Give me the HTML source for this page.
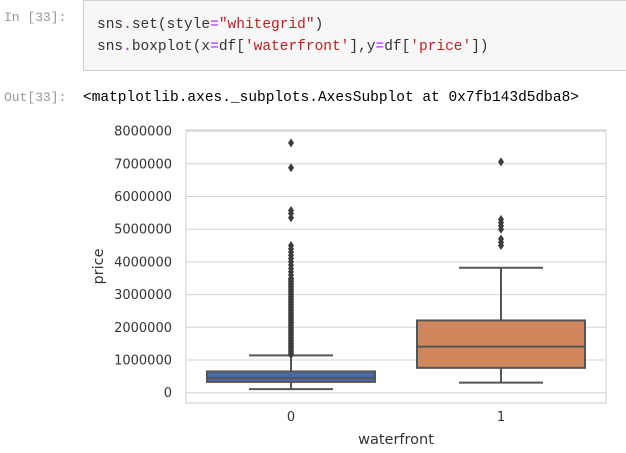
<!DOCTYPE html>
<html><head><meta charset="utf-8"><style>
body{margin:0;width:626px;height:453px;background:#fff;overflow:hidden;position:relative;font-family:"Liberation Sans",sans-serif}
.prompt{position:absolute;font-family:"Liberation Mono",monospace;font-size:13px;color:#999}
.code{position:absolute;left:83px;top:0;width:545px;height:71px;background:#f7f7f7;border:1px solid #cfcfcf;box-sizing:border-box;font-family:"Liberation Mono",monospace;font-size:14.5px;color:#333}
.code div{position:absolute;left:13px;white-space:pre}
.s{color:#ba2121}.o{color:#aa22ff}.p{color:#333}
</style></head><body>
<div class="prompt" style="left:4px;top:10px">In [33]:</div>
<div class="code">
<div style="top:16px">sns<span class="o">.</span>set(style<span class="o">=</span><span class="s">"whitegrid"</span>)</div>
<div style="top:38px">sns<span class="o">.</span>boxplot(x<span class="o">=</span>df[<span class="s">'waterfront'</span>],y<span class="o">=</span>df[<span class="s">'price'</span>])</div>
</div>
<div class="prompt" style="left:4px;top:90px">Out[33]:</div>
<div style="position:absolute;left:83px;top:90px;font-family:'Liberation Mono',monospace;font-size:14.5px;color:#000;white-space:pre">&lt;matplotlib.axes._subplots.AxesSubplot at 0x7fb143d5dba8&gt;</div>
<svg id="chart" width="626" height="453" style="position:absolute;left:0;top:0"></svg>
<script>
const categories=['0','1'];
const q1=[330000,760000];
const median=[450000,1410000];
const q3=[650000,2210000];
const whiskLow=[110000,310000];
const whiskHigh=[1140000,3820000];
const outliers0=[7640000,6880000,5570000,5480000,5350000,4500000,4400000,4300000,4200000,4100000,4000000,3900000,3800000,3700000,3600000,3500000,3450000,3400000,3350000,3300000,3250000,3200000,3150000,3100000,3050000,3000000,2950000,2900000,2850000,2800000,2750000,2700000,2650000,2600000,2550000,2500000,2450000,2400000,2350000,2300000,2250000,2200000,2150000,2100000,2050000,2000000,1950000,1900000,1850000,1800000,1750000,1700000,1650000,1600000,1550000,1500000,1450000,1400000,1350000,1300000,1250000,1200000,1160000];
const outliers1=[7060000,5300000,5200000,5100000,5000000,4700000,4600000,4500000];
const outliers=[outliers0,outliers1];
const yTicks=[0,1000000,2000000,3000000,4000000,5000000,6000000,7000000,8000000];
const colors=['#4a6aa6','#d1875d'];
const ns='http://www.w3.org/2000/svg',svg=document.getElementById('chart');
const L=186,R=606,T=130,B=403,y0=392.7,ppm=32.7;
const Y=v=>y0-v/1e6*ppm;
const X=i=>L+(R-L)/categories.length*(i+0.5);
function mk(t,a){const e=document.createElementNS(ns,t);for(const k in a)e.setAttribute(k,a[k]);svg.appendChild(e);return e;}
let e=mk('rect',{x:L,y:T,width:R-L,height:B-T,fill:'#fff',stroke:'#cccccc','stroke-width':1});


yTicks.forEach(v=>{
 let g=mk('line',{x1:L,x2:R,y1:Y(v),y2:Y(v),stroke:'#d3d3d3','stroke-width':1});
 
 
 let t=mk('text',{x:172,y:Y(v)+4.5,'text-anchor':'end','font-family':'DejaVu Sans,sans-serif','font-size':'13',fill:'#333'});
 t.textContent=v;
 
 
});
const bw=(R-L)/categories.length*0.8,gray='#555';
categories.forEach((c,i)=>{
 const cx=X(i);
 let w1=mk('line',{x1:cx,x2:cx,y1:Y(q1[i]),y2:Y(whiskLow[i]),stroke:gray,'stroke-width':2});
 
 
 let w2=mk('line',{x1:cx,x2:cx,y1:Y(q3[i]),y2:Y(whiskHigh[i]),stroke:gray,'stroke-width':2});
 
 
 [whiskLow[i],whiskHigh[i]].forEach(v=>{
  let cap=mk('line',{x1:cx-bw/4,x2:cx+bw/4,y1:Y(v),y2:Y(v),stroke:gray,'stroke-width':2});
  
  
 });
 let b=mk('rect',{x:cx-bw/2,y:Y(q3[i]),width:bw,height:Y(q1[i])-Y(q3[i]),fill:colors[i],stroke:gray,'stroke-width':2});
 
 
 let m=mk('line',{x1:cx-bw/2,x2:cx+bw/2,y1:Y(median[i]),y2:Y(median[i]),stroke:gray,'stroke-width':2});
 
 
 outliers[i].forEach(v=>{
  const y=Y(v);
  let d=mk('path',{d:`M${cx} ${y-4.5}L${cx+3} ${y}L${cx} ${y+4.5}L${cx-3} ${y}Z`,fill:'#3d3d3d'});
  
  
 });
 let t=mk('text',{x:cx,y:421,'text-anchor':'middle','font-family':'DejaVu Sans,sans-serif','font-size':'13',fill:'#333'});
 t.textContent=c;
 
 
});
let xt=mk('text',{x:(L+R)/2,y:444,'text-anchor':'middle','font-family':'DejaVu Sans,sans-serif','font-size':'14.5',fill:'#333'});
xt.textContent='waterfront';


let yt=mk('text',{x:0,y:0,transform:`translate(103,${(T+B)/2}) rotate(-90)`,'text-anchor':'middle','font-family':'DejaVu Sans,sans-serif','font-size':'14.5',fill:'#333'});
yt.textContent='price';


</script>
</body></html>
